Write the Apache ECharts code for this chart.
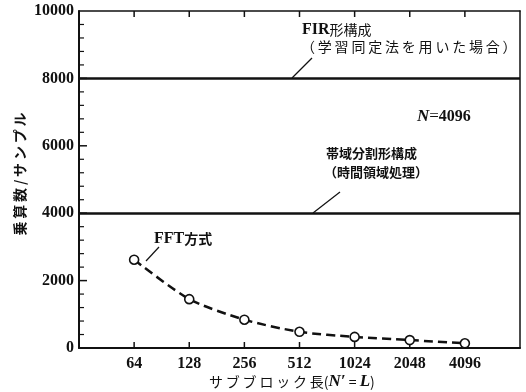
<!DOCTYPE html>
<html><head><meta charset="utf-8">
<script src="https://cdn.jsdelivr.net/npm/echarts@6/dist/echarts.min.js"></script>
<style>html,body{margin:0;padding:0;background:#fff}#c{width:526px;height:392px}</style>
</head><body><div id="c"></div>
<script>
const subBlock = [64, 128, 256, 512, 1024, 2048, 4096];
const fftMults = [2620, 1450, 840, 480, 330, 235, 140];
const firLevel = 8000;
const bandLevel = 4000;
const xMin = 32, xMax = 8192;
const yTicks = [0, 2000, 4000, 6000, 8000, 10000];
const yMinorTicks = [400, 800, 1200, 1600, 2400, 2800, 3200, 3600, 4400, 4800, 5200, 5600,
                     6400, 6800, 7200, 7600, 8400, 8800, 9200, 9600];

const SERIF = '"Liberation Serif","Noto Sans CJK JP",serif';
const JP = '"Noto Sans CJK JP","Liberation Serif",sans-serif';
const sp = s => s.split('').join('\u2009');

// tick marks: [x, y, kind]  kind 0 = y major, 1 = y minor, 2 = x bottom, 3 = x top
const tickData = [].concat(
  yTicks.slice(1, -1).map(v => [xMin, v, 0]),
  yMinorTicks.map(v => [xMin, v, 1]),
  subBlock.map(v => [v, yTicks[0], 2]),
  subBlock.map(v => [v, yTicks[yTicks.length - 1], 3])
);

const chart = echarts.init(document.getElementById('c'));
chart.setOption({
  animation: false,
  backgroundColor: '#fff',
  grid: {left: 79, right: 6, top: 11, bottom: 44},
  xAxis: [{
    type: 'log', logBase: 2, min: xMin, max: xMax, splitNumber: 8,
    axisLine: {show: true, lineStyle: {color: '#111', width: 2}},
    axisTick: {show: false},
    splitLine: {show: false},
    axisLabel: {
      color: '#111', fontFamily: SERIF, fontWeight: 'bold', fontSize: 16, margin: 8,
      formatter: v => subBlock.indexOf(Math.round(v)) >= 0 ? String(Math.round(v)) : ''
    }
  }, {
    type: 'log', logBase: 2, min: xMin, max: xMax, splitNumber: 8, position: 'top',
    axisLine: {show: true, onZero: false, lineStyle: {color: '#111', width: 1.5}},
    axisTick: {show: false}, axisLabel: {show: false}, splitLine: {show: false}
  }],
  yAxis: [{
    type: 'value', min: yTicks[0], max: yTicks[yTicks.length - 1], interval: 2000,
    axisLine: {show: true, lineStyle: {color: '#111', width: 2}},
    axisTick: {show: false},
    splitLine: {show: false},
    axisLabel: {color: '#111', fontFamily: SERIF, fontWeight: 'bold', fontSize: 16, margin: 5,
      formatter: v => String(v)}
  }, {
    type: 'value', min: yTicks[0], max: yTicks[yTicks.length - 1], position: 'right',
    axisLine: {show: true, lineStyle: {color: '#111', width: 1.5}},
    axisTick: {show: false}, axisLabel: {show: false}, splitLine: {show: false}
  }],
  series: [{
    type: 'custom',
    data: tickData,
    encode: {x: 0, y: 1},
    silent: true,
    z: 1,
    renderItem: function (params, api) {
      const kind = api.value(2);
      const p = api.coord([api.value(0), api.value(1)]);
      let s;
      if (kind === 0) s = {x1: p[0], y1: p[1], x2: p[0] + 8, y2: p[1]};
      else if (kind === 1) s = {x1: p[0], y1: p[1], x2: p[0] + 5, y2: p[1]};
      else if (kind === 2) s = {x1: p[0], y1: p[1], x2: p[0], y2: p[1] - 6};
      else s = {x1: p[0], y1: p[1], x2: p[0], y2: p[1] + 6};
      return {type: 'line', shape: s, style: {stroke: '#111', lineWidth: kind === 1 ? 1.2 : 1.5}};
    }
  }, {
    type: 'line',
    data: subBlock.map((x, i) => [x, fftMults[i]]),
    symbol: 'circle', symbolSize: 9,
    itemStyle: {color: '#fff', borderColor: '#111', borderWidth: 1.6},
    lineStyle: {color: '#111', width: 2.5, type: [9, 5]},
    smooth: 0.25,
    z: 3,
    markLine: {
      symbol: ['none', 'none'], label: {show: false}, silent: true,
      lineStyle: {color: '#111', width: 2.5, type: 'solid'},
      data: [{yAxis: firLevel}, {yAxis: bandLevel}]
    }
  }],
  graphic: [
    {type: 'text', left: 302, top: 22, style: {
      text: '{a|FIR}{b|形構成}',
      rich: {a: {fontFamily: SERIF, fontWeight: 'bold', fontSize: 16, fill: '#111'},
             b: {fontFamily: JP, fontSize: 14, fill: '#111'}}}},
    {type: 'text', left: 301, top: 40, style: {text: sp('（学習同定法を用いた場合）'), font: '14px ' + JP, fill: '#111'}},
    {type: 'line', shape: {x1: 312, y1: 58, x2: 292, y2: 78}, style: {stroke: '#111', lineWidth: 1.2}},
    {type: 'text', left: 417, top: 108, style: {
      text: '{n|N}{e|=}{d|4096}',
      rich: {n: {fontFamily: SERIF, fontWeight: 'bold', fontStyle: 'italic', fontSize: 17, fill: '#111'},
             e: {fontFamily: SERIF, fontSize: 17, fill: '#111'},
             d: {fontFamily: SERIF, fontWeight: 'bold', fontSize: 16, fill: '#111'}}}},
    {type: 'text', left: 326, top: 147, style: {text: '帯域分割形構成', font: 'bold 13px ' + JP, fill: '#111'}},
    {type: 'text', left: 324, top: 166, style: {text: '（時間領域処理）', font: 'bold 13px ' + JP, fill: '#111'}},
    {type: 'line', shape: {x1: 340, y1: 192, x2: 313, y2: 213}, style: {stroke: '#111', lineWidth: 1.2}},
    {type: 'text', left: 154, top: 231, style: {
      text: '{a|FFT}{b|方式}',
      rich: {a: {fontFamily: SERIF, fontWeight: 'bold', fontSize: 16, fill: '#111'},
             b: {fontFamily: JP, fontWeight: 'bold', fontSize: 14, fill: '#111'}}}},
    {type: 'line', shape: {x1: 159, y1: 247, x2: 146, y2: 261}, style: {stroke: '#111', lineWidth: 1.2}},
    {type: 'text', x: 20, y: 174, rotation: Math.PI / 2, style: {
      text: sp('乗算数/サンプル'), font: 'bold 14px ' + JP, fill: '#111', align: 'center', verticalAlign: 'middle'}},
    {type: 'text', left: 209, top: 373, style: {
      text: '{j|' + sp('サブブロック長') + '}{j|(}{i|N′}{j| = }{i|L}{j|)}',
      rich: {j: {fontFamily: JP, fontSize: 14, fill: '#111'},
             i: {fontFamily: SERIF, fontWeight: 'bold', fontStyle: 'italic', fontSize: 17, fill: '#111'}}}}
  ]
});
</script></body></html>
